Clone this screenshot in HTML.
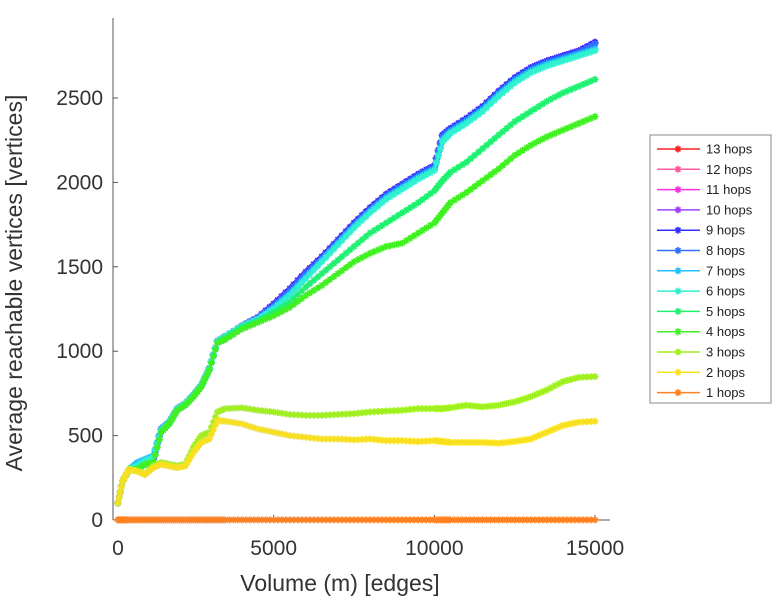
<!DOCTYPE html>
<html><head><meta charset="utf-8"><style>
body{margin:0;background:#fff;}
svg{display:block;font-family:"Liberation Sans",sans-serif;}
</style></head><body>
<svg id="chart" width="773" height="600" viewBox="0 0 773 600">
<g id="axes"></g>
<g id="series"></g>
<text transform="translate(22,283) rotate(-90)" text-anchor="middle" font-size="23" fill="#333">Average reachable vertices [vertices]</text>
<text x="340" y="591" text-anchor="middle" font-size="23" fill="#333">Volume (m) [edges]</text>
<g id="legend"></g>
</svg>
<script>
const xs=[150,300,500,750,1000,1250,1500,1750,2000,2250,2500,2750,3000,3250,3500,4000,4500,5000,5500,6000,6500,7000,7500,8000,8500,9000,9500,10000,10250,10500,11000,11500,12000,12500,13000,13500,14000,14500,15000];
const hops9=[100,230,300,300,340,360,540,580,660,690,740,800,900,1060,1090,1150,1200,1280,1370,1470,1560,1660,1760,1850,1930,1990,2050,2100,2280,2320,2380,2450,2540,2620,2680,2720,2750,2780,2830];
const hops8=[100,230,300,310,345,365,540,580,660,690,740,800,900,1060,1090,1150,1200,1270,1360,1460,1550,1650,1750,1840,1920,1980,2040,2090,2270,2310,2370,2440,2530,2610,2670,2710,2740,2770,2820];
const hops7=[100,230,300,340,360,380,540,580,660,690,740,800,900,1060,1090,1150,1190,1260,1340,1440,1540,1640,1740,1830,1910,1970,2030,2080,2250,2300,2360,2430,2520,2600,2660,2700,2730,2760,2790];
const hops6=[100,230,300,320,350,370,530,580,660,690,740,800,900,1060,1090,1150,1190,1250,1330,1430,1530,1630,1730,1820,1900,1960,2020,2070,2240,2290,2350,2420,2510,2590,2650,2690,2720,2750,2780];
const hops5=[100,230,300,300,330,340,520,570,650,680,730,790,890,1050,1080,1140,1180,1230,1290,1380,1460,1540,1620,1700,1760,1820,1880,1950,2010,2060,2120,2200,2280,2360,2420,2480,2530,2570,2610];
const hops4=[100,230,300,300,330,340,520,570,650,680,730,790,890,1050,1070,1130,1170,1210,1260,1330,1390,1460,1530,1580,1620,1640,1700,1760,1820,1880,1940,2010,2080,2160,2220,2270,2310,2350,2390];
const hops3=[100,230,300,290,270,320,340,330,320,330,430,500,520,640,660,665,650,640,625,620,620,625,630,640,645,650,660,660,660,665,680,670,680,700,730,770,820,845,850];
const hops2=[100,230,300,290,270,310,330,320,310,320,400,460,480,590,585,570,540,520,500,490,480,480,475,480,470,470,465,470,465,460,460,460,455,465,480,520,560,580,585];
const hops1=[1,1,1,1,1,1,1,1,1,1,1,1,1,1,1,1,1,1,1,1,1,1,1,1,1,1,1,1,1,1,1,1,1,1,1,1,1,1,1];
const seriesNames=["13 hops","12 hops","11 hops","10 hops","9 hops","8 hops","7 hops","6 hops","5 hops","4 hops","3 hops","2 hops","1 hops"];
const seriesData=[hops9,hops9,hops9,hops9,hops9,hops8,hops7,hops6,hops5,hops4,hops3,hops2,hops1];
const colors=["#ff2020","#ff5aa0","#ff30e0","#a040ff","#3030ff","#3070ff","#20c0ff","#30f0d0","#20f070","#40f020","#a0f020","#f8e020","#ff8020"];
const xTicks=[0,5000,10000,15000];
const yTicks=[0,500,1000,1500,2000,2500];
const X=v=>113+v*(482/15000);
const Y=v=>520-v*0.1688;
const NS="http://www.w3.org/2000/svg";
function mk(t,a,p){const e=document.createElementNS(NS,t);for(const k in a)e.setAttribute(k,a[k]);p.appendChild(e);return e;}
const axes=document.getElementById('axes');
const ya=mk('line',{x1:113,y1:18,x2:113,y2:520,stroke:'#555','stroke-width':1},axes);


const xa=mk('line',{x1:113,y1:520,x2:610,y2:520,stroke:'#555','stroke-width':1},axes);


xTicks.forEach(v=>{
 mk('line',{x1:X(v),y1:520,x2:X(v),y2:515,stroke:'#555'},axes);
 const t=mk('text',{x:X(v)+(v===0?5:0),y:555,'text-anchor':'middle','font-size':21,fill:'#333'},axes);
 t.textContent=v;
 
 
});
yTicks.forEach(v=>{
 mk('line',{x1:113,y1:Y(v),x2:118,y2:Y(v),stroke:'#555'},axes);
 const t=mk('text',{x:103,y:Y(v)+7,'text-anchor':'end','font-size':21,fill:'#333'},axes);
 t.textContent=v;
 
 
});
function star(g,x,y,c,s){
 mk('path',{d:`M${x-s},${y}H${x+s}M${x},${y-s}V${y+s}M${x-s*.7},${y-s*.7}L${x+s*.7},${y+s*.7}M${x-s*.7},${y+s*.7}L${x+s*.7},${y-s*.7}`,stroke:c,'stroke-width':1.6,fill:'none'},g);
}
const sg=document.getElementById('series');
seriesData.forEach((d,i)=>{
 const g=mk('g',{},sg);
 
 
 mk('polyline',{points:d.map((v,j)=>X(xs[j])+','+Y(v)).join(' '),fill:'none',stroke:colors[i],'stroke-width':2}, g);
 d.forEach((v,j)=>{star(g,X(xs[j]),Y(v),colors[i],3.5);
  if(j<d.length-1){for(let k=1;k<4;k++){const f=k/4;star(g,X(xs[j])+(X(xs[j+1])-X(xs[j]))*f,Y(v)+(Y(d[j+1])-Y(v))*f,colors[i],3.5);}}});
});
const lg=document.getElementById('legend');
mk('rect',{x:650,y:135,width:121,height:268,fill:'#fff',stroke:'#888','stroke-width':1},lg);
seriesNames.forEach((n,i)=>{
 const y=149+i*20.3;
 const e=mk('g',{},lg);
 
 
 mk('line',{x1:657,y1:y,x2:700,y2:y,stroke:colors[i],'stroke-width':1.5},e);
 star(e,678,y,colors[i],3.5);
 const t=mk('text',{x:706,y:y+4.5,'font-size':13,fill:'#222'},e);
 t.textContent=n;
});
</script>
</body></html>
